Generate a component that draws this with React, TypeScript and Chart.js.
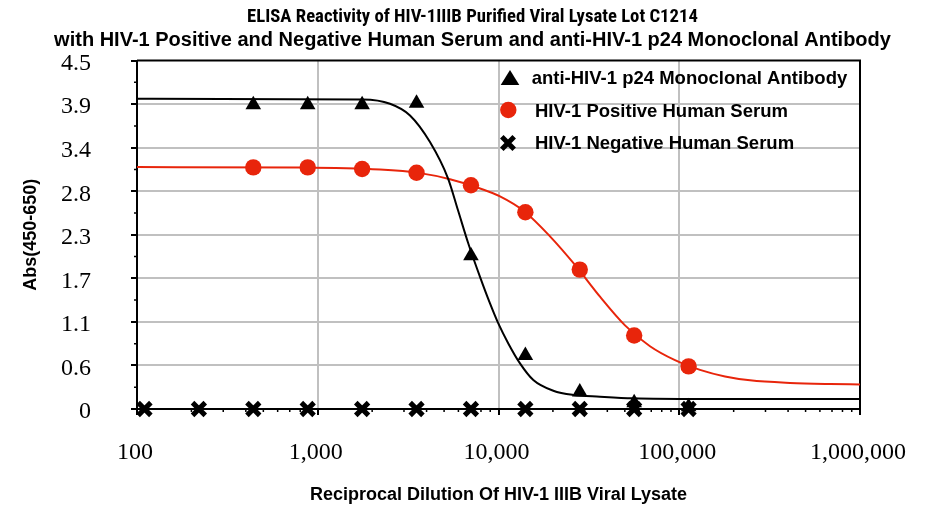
import React, { useEffect, useRef } from 'react';
import { Chart, registerables } from 'chart.js';

Chart.register(...registerables);

// ---------- text ----------
const titleLine1 = 'ELISA Reactivity of HIV-1IIIB Purified Viral Lysate Lot C1214';
const titleLine2 = 'with HIV-1 Positive and Negative Human Serum and anti-HIV-1 p24 Monoclonal Antibody';
const xAxisTitle = 'Reciprocal Dilution Of HIV-1 IIIB Viral Lysate';
const yAxisTitle = 'Abs(450-650)';
const seriesNames = [
  'anti-HIV-1 p24 Monoclonal Antibody',
  'HIV-1 Positive Human Serum',
  'HIV-1 Negative Human Serum',
];

// ---------- data ----------
const negativeDilutions = [110, 220, 440, 880, 1760, 3520, 7040, 14080, 28160, 56320, 112640];
const negativeValues = [0.0, 0.0, 0.0, 0.0, 0.0, 0.0, 0.0, 0.0, 0.0, 0.0, 0.0];

const mabDilutions = [440, 880, 1760, 3520, 7040, 14080, 28160, 56320, 112640];
const mabValues = [3.93, 3.93, 3.93, 3.95, 1.98, 0.69, 0.22, 0.08, 0.03];

const positiveDilutions = [440, 880, 1760, 3520, 7040, 14080, 28160, 56320, 112640];
const positiveValues = [3.12, 3.12, 3.1, 3.05, 2.89, 2.54, 1.8, 0.95, 0.55];

// fitted curves
const mabFitX = [100, 1773, 2510, 3239, 4178, 5255, 5970, 6807, 7901, 8974, 9975, 11330, 13150, 15580, 20100, 25930, 36440, 55470, 130200, 1000000];
const mabFitY = [4.006, 3.997, 3.942, 3.791, 3.447, 2.979, 2.566, 2.137, 1.706, 1.363, 1.105, 0.847, 0.589, 0.374, 0.236, 0.181, 0.159, 0.138, 0.129, 0.129];
const positiveFitX = [100, 798, 2210, 3679, 5391, 7413, 10193, 14015, 19273, 26502, 36442, 50104, 68886, 94730, 130270, 179110, 246320, 410100, 682300, 1000000];
const positiveFitY = [3.124, 3.118, 3.092, 3.046, 2.968, 2.87, 2.745, 2.545, 2.23, 1.86, 1.45, 1.08, 0.81, 0.63, 0.505, 0.42, 0.37, 0.337, 0.323, 0.318];

// ---------- axes ----------
const xTickValues = [100, 1000, 10000, 100000, 1000000];
const xTickLabels = ['100', '1,000', '10,000', '100,000', '1,000,000'];
const yTickLabels = ['0', '0.6', '1.1', '1.7', '2.3', '2.8', '3.4', '3.9', '4.5'];
const yMin = 0;
const yMax = 4.5;

// ---------- style ----------
const RED = '#e8250b';
const GRID = '#c0c0c0';
const SANS = "'Liberation Sans', Arial, Helvetica, sans-serif";
const NARROW = "'Roboto Condensed', 'Liberation Sans Narrow', 'Arial Narrow', 'Liberation Sans', sans-serif";
const SERIF = "'Liberation Serif', 'Times New Roman', serif";
const yStep = (yMax - yMin) / (yTickLabels.length - 1);

const decorPlugin = {
  id: 'decor',
  beforeDatasetsDraw(chart: any) {
    const { ctx, chartArea: a, scales } = chart;
    ctx.save();
    ctx.strokeStyle = '#000';
    ctx.lineWidth = 2;
    ctx.beginPath();
    ctx.moveTo(a.left, a.top);
    ctx.lineTo(a.right, a.top);
    ctx.lineTo(a.right, a.bottom);
    ctx.stroke();
    // minor ticks
    ctx.lineWidth = 1.5;
    ctx.beginPath();
    for (let i = 0; i < yTickLabels.length - 1; i++) {
      const py = scales.y.getPixelForValue(yMin + (i + 0.5) * yStep);
      ctx.moveTo(a.left - 3, py);
      ctx.lineTo(a.left, py);
    }
    for (let k = 0; k < xTickValues.length - 1; k++) {
      for (let d = 2; d <= 9; d++) {
        const px = scales.x.getPixelForValue(xTickValues[k] * d);
        ctx.moveTo(px, a.bottom);
        ctx.lineTo(px, a.bottom + 3);
      }
    }
    ctx.stroke();
    ctx.restore();
  },
  afterDraw(chart: any) {
    const { ctx } = chart;
    ctx.save();
    // legend markers
    ctx.fillStyle = '#000';
    ctx.beginPath();
    ctx.moveTo(510, 70);
    ctx.lineTo(519.3, 85);
    ctx.lineTo(500.7, 85);
    ctx.closePath();
    ctx.fill();
    ctx.fillStyle = RED;
    ctx.beginPath();
    ctx.arc(508.3, 110, 8.2, 0, Math.PI * 2);
    ctx.fill();
    ctx.strokeStyle = '#000';
    ctx.lineWidth = 5;
    ctx.beginPath();
    ctx.moveTo(501.8, 136.8);
    ctx.lineTo(514.2, 149.2);
    ctx.moveTo(514.2, 136.8);
    ctx.lineTo(501.8, 149.2);
    ctx.stroke();
    // legend text
    ctx.fillStyle = '#000';
    ctx.font = `bold 18.5px ${SANS}`;
    ctx.textBaseline = 'middle';
    ctx.textAlign = 'left';
    ctx.fillText(seriesNames[0], 531.7, 79);
    ctx.fillText(seriesNames[1], 535, 112.3);
    ctx.fillText(seriesNames[2], 535, 144.3);
    ctx.restore();
  },
};

export default function App() {
  const ref = useRef<HTMLCanvasElement>(null);
  useEffect(() => {
    if (!ref.current) return;
    const chart = new Chart(ref.current, {
      type: 'scatter',
      data: {
        datasets: [
          {
            label: seriesNames[2],
            data: negativeDilutions.map((x, i) => ({ x, y: negativeValues[i] })),
            showLine: false,
            pointStyle: 'crossRot',
            pointRadius: 9,
            pointBorderWidth: 5,
            pointBorderColor: '#000',
            pointBackgroundColor: '#000',
            order: 0,
            clip: false,
          },
          {
            label: seriesNames[1],
            data: positiveDilutions.map((x, i) => ({ x, y: positiveValues[i] })),
            showLine: false,
            pointStyle: 'circle',
            pointRadius: 8.2,
            pointBorderWidth: 0,
            pointBorderColor: RED,
            pointBackgroundColor: RED,
            order: 1,
            clip: false,
          },
          {
            label: seriesNames[0],
            data: mabDilutions.map((x, i) => ({ x, y: mabValues[i] })),
            showLine: false,
            pointStyle: 'triangle',
            pointRadius: 9,
            pointBorderWidth: 0,
            pointBorderColor: '#000',
            pointBackgroundColor: '#000',
            order: 2,
            clip: false,
          },
          {
            label: seriesNames[0] + ' fit',
            data: mabFitX.map((x, i) => ({ x, y: mabFitY[i] })),
            showLine: true,
            borderColor: '#000',
            borderWidth: 2,
            pointRadius: 0,
            pointHoverRadius: 0,
            cubicInterpolationMode: 'monotone',
            order: 3,
          },
          {
            label: seriesNames[1] + ' fit',
            data: positiveFitX.map((x, i) => ({ x, y: positiveFitY[i] })),
            showLine: true,
            borderColor: RED,
            borderWidth: 2,
            pointRadius: 0,
            pointHoverRadius: 0,
            cubicInterpolationMode: 'monotone',
            order: 4,
          },
        ],
      } as any,
      options: {
        responsive: false,
        animation: false,
        devicePixelRatio: 1,
        layout: { padding: { left: 17, right: 0, top: 0, bottom: 0 } },
        plugins: {
          legend: { display: false },
          tooltip: { enabled: false },
          title: {
            display: true,
            text: titleLine1,
            color: '#000',
            font: { family: NARROW, size: 18.7, weight: 'bold', lineHeight: 1.2 },
            padding: { top: 5.8, bottom: 0 },
          },
          subtitle: {
            display: true,
            text: titleLine2,
            color: '#000',
            font: { family: SANS, size: 20, weight: 'bold', lineHeight: 1.2 },
            padding: { top: 0.3, bottom: 8 },
          },
        },
        scales: {
          x: {
            type: 'logarithmic',
            position: 'bottom',
            min: xTickValues[0],
            max: xTickValues[xTickValues.length - 1],
            afterBuildTicks: (s: any) => {
              s.ticks = xTickValues.map((v) => ({ value: v }));
            },
            afterFit: (s: any) => {
              s.height = 98;
            },
            ticks: {
              autoSkip: false,
              maxRotation: 0,
              minRotation: 0,
              callback: (_v: any, i: number) => xTickLabels[i],
              font: { family: SERIF, size: 24, lineHeight: 2.833 },
              color: '#000',
              padding: 4,
              labelOffset: -2,
            },
            grid: {
              color: (c: any) =>
                c.index === 0 || c.index === xTickValues.length - 1 ? 'rgba(0,0,0,0)' : GRID,
              lineWidth: 2,
              tickColor: '#000',
              tickLength: 6,
              tickWidth: 2,
            },
            border: { display: true, color: '#000', width: 2 },
            title: {
              display: true,
              text: xAxisTitle,
              color: '#000',
              font: { family: SANS, size: 18, weight: 'bold', lineHeight: 1.2 },
              padding: { top: 0, bottom: 1.6 },
            },
          },
          y: {
            type: 'linear',
            position: 'left',
            min: yMin,
            max: yMax,
            afterBuildTicks: (s: any) => {
              s.ticks = yTickLabels.map((_l, i) => ({ value: yMin + yStep * i }));
            },
            afterFit: (s: any) => {
              s.width = 120;
            },
            ticks: {
              callback: (_v: any, i: number) => yTickLabels[i],
              font: { family: SERIF, size: 24 },
              color: '#000',
              padding: 40,
              labelOffset: 3,
            },
            grid: {
              color: (c: any) =>
                c.index === 0 || c.index === yTickLabels.length - 1 ? 'rgba(0,0,0,0)' : GRID,
              lineWidth: 2,
              tickColor: '#000',
              tickLength: 6,
              tickWidth: 2,
            },
            border: { display: true, color: '#000', width: 2 },
            title: {
              display: true,
              text: yAxisTitle,
              color: '#000',
              font: { family: SANS, size: 18, weight: 'bold', lineHeight: 1.2 },
              padding: { top: 3.4, bottom: 0 },
            },
          },
          yr: {
            type: 'linear',
            position: 'right',
            display: true,
            grid: { display: false, drawOnChartArea: false },
            border: { display: false },
            ticks: { display: false },
            afterFit: (s: any) => {
              s.width = 68;
            },
          },
        },
      } as any,
      plugins: [decorPlugin],
    });
    return () => chart.destroy();
  }, []);

  return (
    <div style={{ position: 'absolute', left: 0, top: 0, width: 928, height: 507, background: '#fff' }}>
      <canvas ref={ref} width={928} height={507} style={{ display: 'block', width: 928, height: 507 }} />
    </div>
  );
}
